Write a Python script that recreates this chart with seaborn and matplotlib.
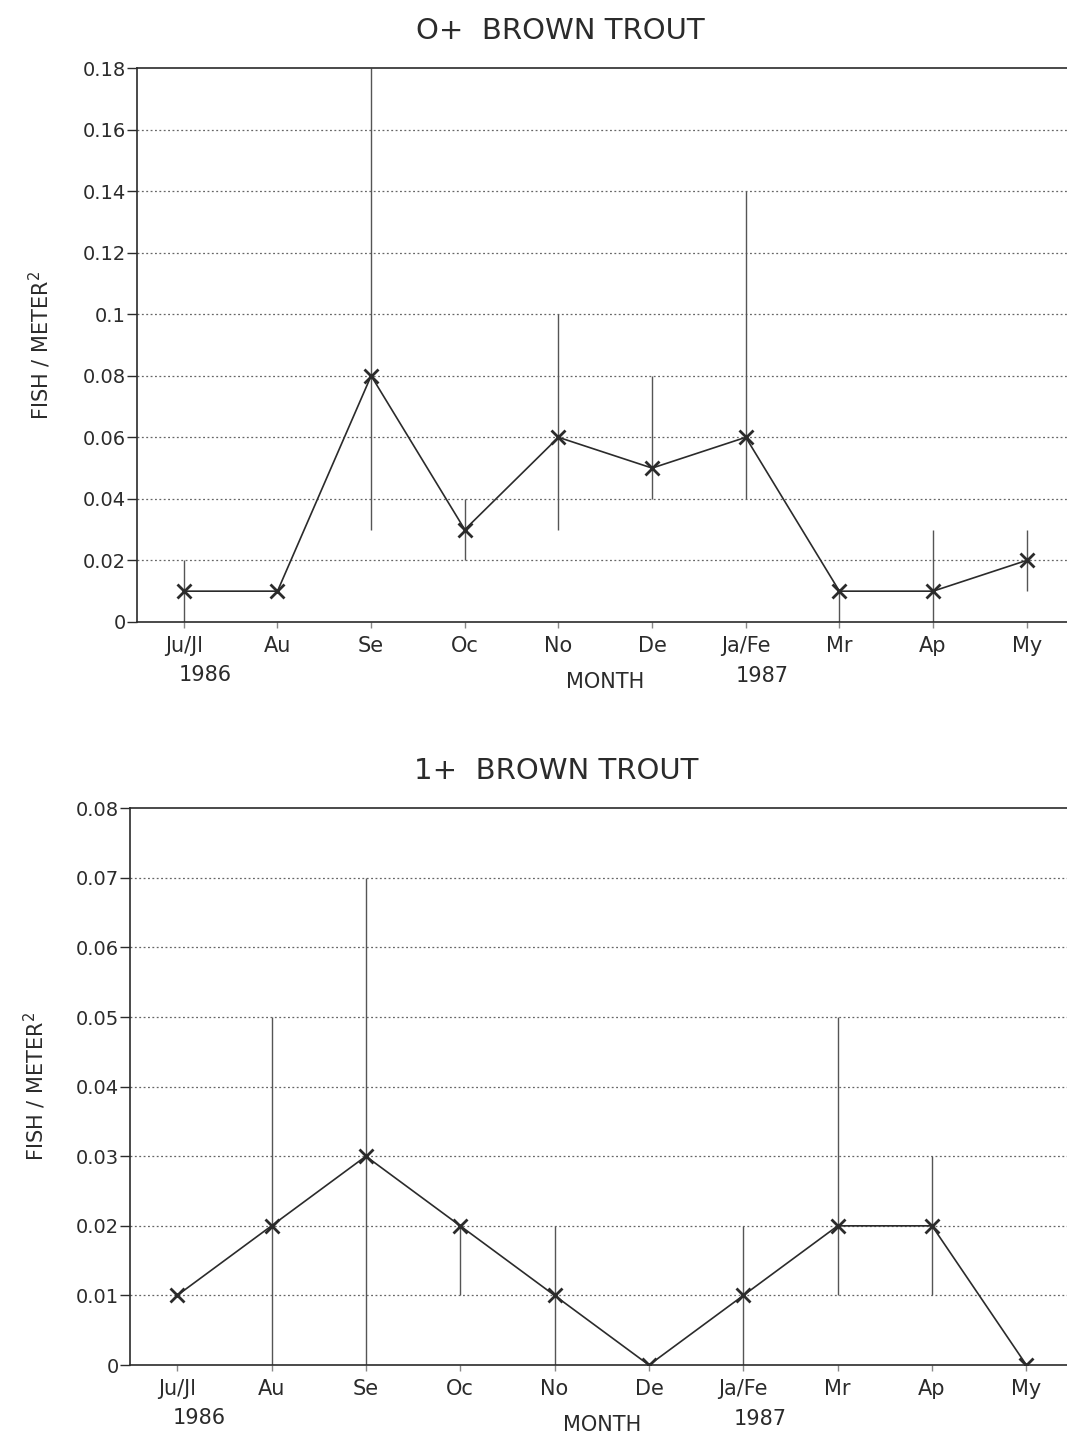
import numpy as np
import pandas as pd
import matplotlib
matplotlib.use("Agg")
import matplotlib.pyplot as plt
import seaborn as sns

months = ["Ju/Jl", "Au", "Se", "Oc", "No", "De", "Ja/Fe", "Mr", "Ap", "My"]

# O+ brown trout density (fish per square meter) with range limits
age0_mean = [0.01, 0.01, 0.08, 0.03, 0.06, 0.05, 0.06, 0.01, 0.01, 0.02]
age0_low = [0.00, 0.01, 0.03, 0.02, 0.03, 0.04, 0.04, 0.00, 0.00, 0.01]
age0_high = [0.02, 0.01, 0.18, 0.04, 0.10, 0.08, 0.14, 0.01, 0.03, 0.03]
age0_ticks = [0, 0.02, 0.04, 0.06, 0.08, 0.1, 0.12, 0.14, 0.16, 0.18]
age0_ticklabels = ["0", "0.02", "0.04", "0.06", "0.08", "0.1", "0.12", "0.14", "0.16", "0.18"]

# 1+ brown trout density
age1_mean = [0.01, 0.02, 0.03, 0.02, 0.01, 0.00, 0.01, 0.02, 0.02, 0.00]
age1_low = [0.01, 0.00, 0.00, 0.01, 0.00, 0.00, 0.00, 0.01, 0.01, 0.00]
age1_high = [0.01, 0.05, 0.07, 0.02, 0.02, 0.00, 0.02, 0.05, 0.03, 0.00]
age1_ticks = [0, 0.01, 0.02, 0.03, 0.04, 0.05, 0.06, 0.07, 0.08]
age1_ticklabels = ["0", "0.01", "0.02", "0.03", "0.04", "0.05", "0.06", "0.07", "0.08"]

sns.set_style("white")
plt.rcParams["font.family"] = ["DejaVu Sans"]

fig = plt.figure(figsize=(10.67, 14.36), dpi=100)
ax_top = fig.add_axes([0.1284, 0.5669, 0.8716, 0.3857])
ax_bot = fig.add_axes([0.1218, 0.0494, 0.8782, 0.3878])

ink = "#2b2b2b"


def draw_panel(ax, mean, low, high, ticks, ticklabels, title, ymax, ylab_pad):
    df = pd.DataFrame({"pos": np.arange(len(months)), "density": mean})
    ax.vlines(df["pos"], low, high, color="#555555", lw=1.0, zorder=2)
    sns.lineplot(data=df, x="pos", y="density", ax=ax, color=ink, lw=1.2,
                 marker="x", markersize=10, markeredgewidth=2.0,
                 markeredgecolor=ink, zorder=3)
    ax.set_xlim(-0.5, 9.43)
    ax.set_ylim(0, ymax)
    ax.set_yticks(ticks)
    ax.set_yticklabels(ticklabels)
    ax.set_xticks(np.arange(len(months)))
    ax.set_xticklabels(months)
    for t in ticks[1:-1]:
        ax.axhline(t, color="#666666", lw=0.9, ls=(0, (1.5, 2.0)), zorder=1)
    ax.spines["right"].set_visible(False)
    for side in ["left", "top", "bottom"]:
        ax.spines[side].set_color(ink)
        ax.spines[side].set_linewidth(1.2)
    ax.tick_params(axis="y", direction="out", length=7, width=1.0,
                   color=ink, labelsize=14, labelcolor=ink, pad=1, left=True)
    ax.tick_params(axis="x", direction="out", length=4, width=1.0,
                   color="#888888", labelsize=15, labelcolor=ink, pad=6, bottom=True)
    ax.set_xlabel("")
    ax.set_ylabel("FISH / METER$^2$", fontsize=15, color=ink, labelpad=ylab_pad)
    ax.set_title(title, fontsize=21, color=ink, pad=21, x=0.455)
    xy = ("data", "axes fraction")
    ax.annotate("1986", xy=(0.23, 0), xycoords=xy, xytext=(0, -53),
                textcoords="offset pixels", ha="center", va="center",
                fontsize=15, color=ink)
    ax.annotate("1987", xy=(6.18, 0), xycoords=xy, xytext=(0, -54),
                textcoords="offset pixels", ha="center", va="center",
                fontsize=15, color=ink)
    ax.annotate("MONTH", xy=(4.5, 0), xycoords=xy, xytext=(0, -60),
                textcoords="offset pixels", ha="center", va="center",
                fontsize=15, color=ink)


draw_panel(ax_top, age0_mean, age0_low, age0_high, age0_ticks, age0_ticklabels,
           "O+  BROWN TROUT", 0.18, 21)
draw_panel(ax_bot, age1_mean, age1_low, age1_high, age1_ticks, age1_ticklabels,
           "1+  BROWN TROUT", 0.08, 20)

fig.savefig("out.png", dpi=100)
